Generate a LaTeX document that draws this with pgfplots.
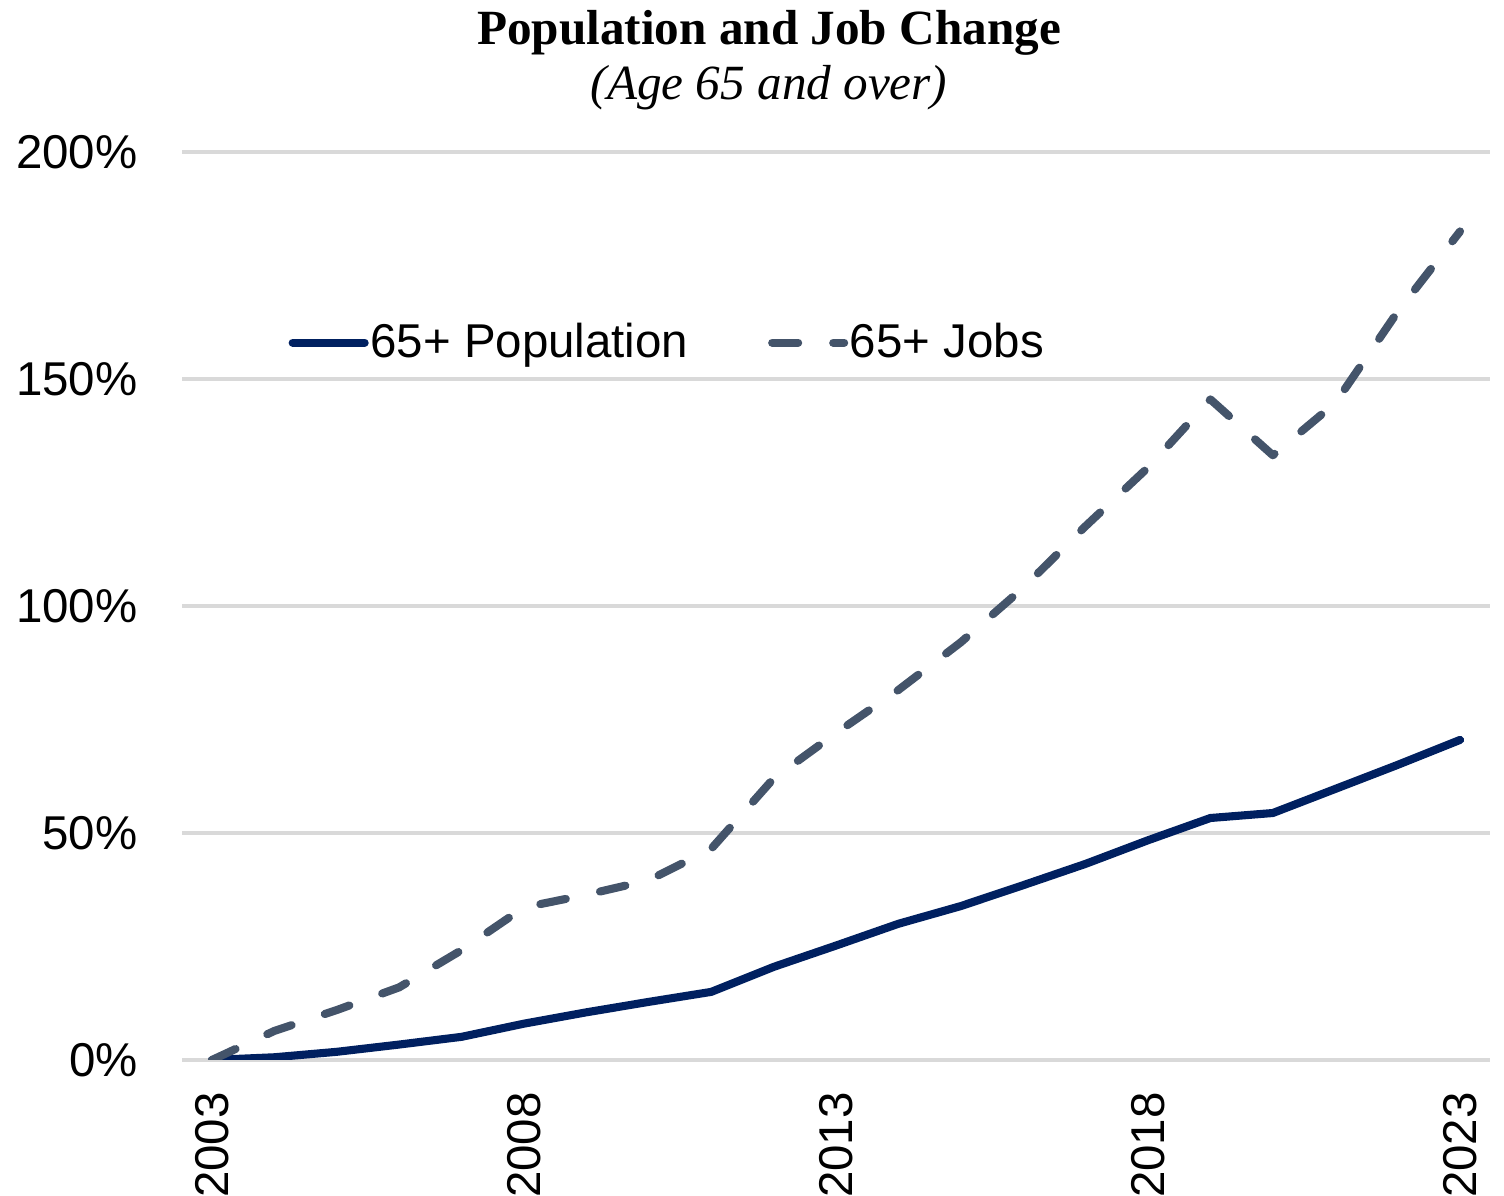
\documentclass[border=0pt]{standalone}
\usepackage{pgfplots}
\pgfplotsset{compat=1.18}
\usepackage{fontspec}
\setmainfont{Liberation Sans}
\newfontfamily\titlefont{Liberation Serif}
\definecolor{popc}{HTML}{002060}
\definecolor{jobc}{HTML}{44546A}
\definecolor{gridc}{HTML}{D9D9D9}
\begin{document}
\begin{tikzpicture}[x=1cm,y=1cm]
\path[use as bounding box] (0,0) rectangle (15.04,11.96);
\begin{axis}[
  at={(1.82cm,1.36cm)}, anchor=south west,
  scale only axis, width=13.08cm, height=9.08cm,
  xmin=2002.52, xmax=2023.48, ymin=0, ymax=200,
  axis line style={draw=none},
  ytick={0,50,100,150,200},
  xtick={2003,2008,2013,2018,2023},
  ymajorgrids, grid style={gridc, line width=0.9pt},
  major tick length=0pt,
  /pgf/number format/assume math mode=true,
  /pgf/number format/1000 sep={},
  yticklabel={\pgfmathprintnumber{\tick}\%},
  tick label style={font=\fontsize{13.5}{16}\selectfont},
  yticklabel style={anchor=east, xshift=-0.32cm},
  xticklabel style={rotate=90, anchor=east, xshift=-0.2cm},
  legend style={at={(0.081,0.79)}, anchor=west, draw=none, fill=none, inner sep=0pt,
    font=\fontsize{13.5}{16}\selectfont, legend columns=2,
    nodes={inner xsep=0.5pt},
    /tikz/every even column/.append style={column sep=0.78cm}},
  legend cell align=left,
  legend image code/.code={\draw[#1] (0cm,0cm) -- (0.72cm,0cm);},
]
\draw[gridc, line width=0.9pt] (axis cs:2002.52,0) -- (axis cs:2023.48,0);
\addplot[popc, line width=2.3pt, line cap=round, line join=round] coordinates {
(2003,0) (2004,0.6) (2005,1.8) (2006,3.4) (2007,5.1) (2008,8.0) (2009,10.5)
(2010,12.8) (2011,15.0) (2012,20.5) (2013,25.2) (2014,30.0) (2015,33.9)
(2016,38.5) (2017,43.2) (2018,48.4) (2019,53.3) (2020,54.4) (2021,59.7)
(2022,65.0) (2023,70.5)};
\addlegendentry{65+ Population}
\addplot[jobc, line width=2.3pt, line cap=round, line join=round, dash pattern=on 0.26cm off 0.35cm] coordinates {
(2003,0) (2004,6.4) (2005,11.0) (2006,16.0) (2007,24.2) (2008,33.6) (2009,36.4)
(2010,39.6) (2011,46.5) (2012,62.0) (2013,72.0) (2014,81.5) (2015,92.0)
(2016,104.0) (2017,117.6) (2018,130.5) (2019,145.5) (2020,133.2) (2021,144.7)
(2022,164.8) (2023,182.5)};
\addlegendentry{65+ Jobs}
\end{axis}
\node[font=\titlefont\bfseries\fontsize{14}{16}\selectfont] at (7.69,11.63) {Population and Job Change};
\node[font=\titlefont\itshape\fontsize{14}{16}\selectfont] at (7.69,11.08) {(Age 65 and over)};
\end{tikzpicture}
\end{document}
